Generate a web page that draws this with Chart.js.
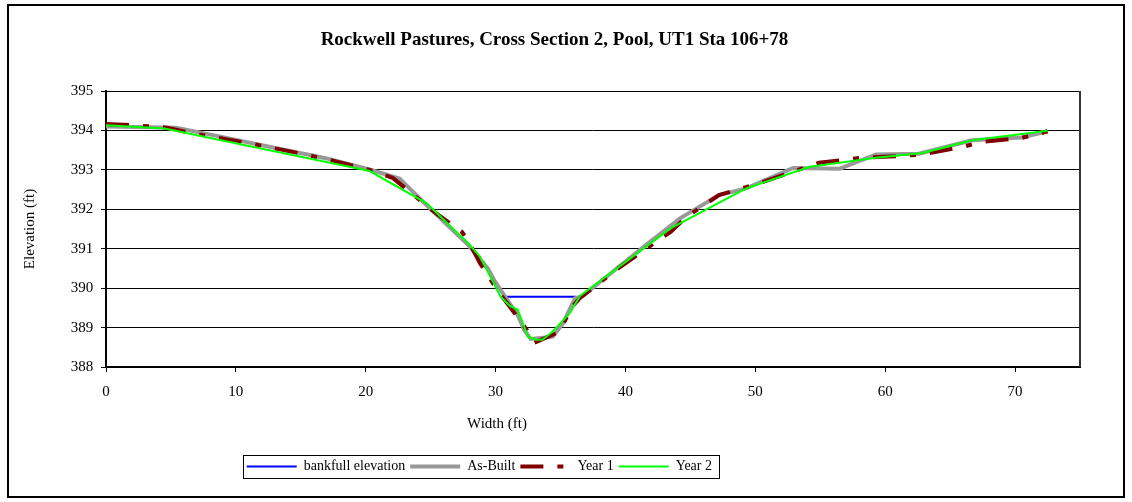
<!DOCTYPE html>
<html>
<head>
<meta charset="utf-8">
<script src="https://cdn.jsdelivr.net/npm/chart.js@4"></script>
<style>
  body { margin: 0; background: #fff; }
  #frame { position: absolute; left: 7px; top: 4px; width: 1114px; height: 490px; border: 2px solid #000; background: #fff; }
  canvas { display: block; }
</style>
</head>
<body>
<div id="frame"><canvas id="xsChart" width="1114" height="490"></canvas></div>
<script>
// cross section survey points (width ft, elevation ft)
const bankfullX = [30.8, 36.2];
const bankfullY = [389.78, 389.78];

const asBuiltX = [0, 5.4, 7.2, 17.0, 20.3, 22.6, 24.7, 27.9, 29.4, 29.9, 30.8, 31.7, 32.2, 32.7, 34.4, 35.2, 36.1, 36.7, 41.6, 44.2, 47.2, 49.3, 52.9, 56.5, 59.3, 62.6, 66.7, 70.5, 72.5];
const asBuiltY = [394.1, 394.07, 393.95, 393.29, 393.01, 392.78, 392.1, 391.09, 390.5, 390.2, 389.75, 389.32, 388.94, 388.71, 388.77, 389.11, 389.74, 389.8, 391.1, 391.77, 392.36, 392.53, 393.05, 393.03, 393.39, 393.41, 393.75, 393.82, 393.98];

const year1X = [0, 1.8, 4.7, 6.5, 11.1, 14.9, 17.0, 20.3, 22.1, 25.4, 27.4, 28.0, 28.8, 29.8, 30.4, 31.3, 32.4, 33.0, 34.7, 35.3, 35.9, 36.5, 39.3, 42.2, 43.5, 44.7, 47.2, 50.3, 54.9, 58.0, 61.1, 62.9, 65.9, 67.5, 70.5, 72.1, 72.5];
const year1Y = [394.16, 394.14, 394.07, 393.94, 393.67, 393.42, 393.27, 393.0, 392.79, 391.9, 391.43, 391.14, 390.63, 390.12, 389.83, 389.44, 388.94, 388.62, 388.86, 389.15, 389.53, 389.75, 390.47, 391.14, 391.43, 391.81, 392.36, 392.66, 393.18, 393.3, 393.35, 393.39, 393.58, 393.71, 393.81, 393.94, 393.98];

const year2X = [0, 4.5, 20.3, 24.7, 28.0, 28.8, 30.4, 31.1, 31.7, 32.5, 33.1, 33.6, 34.4, 35.7, 36.5, 43.5, 49.3, 54.2, 59.3, 62.9, 66.7, 72.5];
const year2Y = [394.13, 394.05, 392.97, 392.15, 391.1, 390.8, 389.78, 389.55, 389.45, 388.77, 388.69, 388.69, 388.9, 389.36, 389.8, 391.52, 392.53, 393.08, 393.31, 393.43, 393.75, 393.99];

const xMin = 0, xMax = 75, xStep = 10;
const yMin = 388, yMax = 395, yStep = 1;

const pts = (xs, ys) => xs.map((x, i) => ({ x: x, y: ys[i] }));

Chart.defaults.font.family = '"Liberation Serif", "Times New Roman", serif';
Chart.defaults.color = '#000';

// extra bits Excel draws: plot frame, legend box, offset axis title
const excelBits = {
  id: 'excelBits',
  afterLayout(chart) {
    chart.legend.left = 232.7;
    chart.titleBlock.left += 10;
    chart.titleBlock.right += 10;
  },
  afterDraw(chart) {
    const ctx = chart.ctx;
    const a = chart.chartArea;
    ctx.save();
    ctx.strokeStyle = '#000';
    ctx.lineWidth = 1;
    ctx.beginPath();
    ctx.moveTo(a.left, Math.round(a.top) + 0.5);
    ctx.lineTo(a.right, Math.round(a.top) + 0.5);
    ctx.stroke();
    ctx.lineWidth = 2;
    ctx.strokeStyle = '#333';
    ctx.beginPath();
    ctx.moveTo(Math.round(a.right), a.top);
    ctx.lineTo(Math.round(a.right), a.bottom);
    ctx.stroke();

    // legend frame
    const hb = chart.legend.legendHitBoxes;
    if (hb && hb.length) {
      const last = hb[hb.length - 1];
      const l = hb[0].left - 4, r = last.left + last.width + 7;
      const cy = hb[0].top + hb[0].height / 2;
      ctx.lineWidth = 1;
      ctx.strokeStyle = '#000';
      ctx.strokeRect(Math.round(l) + 0.5, Math.round(cy - 11.5) + 0.5, Math.round(r - l), 23);
    }

    // x axis title
    ctx.fillStyle = '#000';
    ctx.font = '15px "Liberation Serif", "Times New Roman", serif';
    ctx.textAlign = 'center';
    ctx.textBaseline = 'middle';
    ctx.fillText('Width (ft)', 488, 418);
    ctx.restore();
  }
};

new Chart(document.getElementById('xsChart'), {
  type: 'line',
  data: {
    datasets: [
      {
        label: 'bankfull elevation',
        data: pts(bankfullX, bankfullY),
        borderColor: '#0000ff',
        backgroundColor: '#0000ff',
        borderWidth: 2,
        pointRadius: 0,
        order: 3
      },
      {
        label: 'As-Built',
        data: pts(asBuiltX, asBuiltY),
        borderColor: '#999999',
        backgroundColor: '#999999',
        borderWidth: 4,
        pointRadius: 0,
        order: 2
      },
      {
        label: 'Year 1',
        data: pts(year1X, year1Y),
        borderColor: '#800000',
        backgroundColor: '#800000',
        borderWidth: 4,
        borderDash: [23, 14, 6, 14],
        pointRadius: 0,
        order: 1
      },
      {
        label: 'Year 2',
        data: pts(year2X, year2Y),
        borderColor: '#00ff00',
        backgroundColor: '#00ff00',
        borderWidth: 2,
        pointRadius: 0,
        order: 0
      }
    ]
  },
  options: {
    responsive: false,
    animation: false,
    layout: { padding: { left: 0, right: 43, top: 0, bottom: 12.5 } },
    plugins: {
      title: {
        display: true,
        text: 'Rockwell Pastures, Cross Section 2, Pool, UT1 Sta 106+78',
        fullSize: true,
        color: '#000',
        font: { size: 19, weight: 'bold' },
        padding: { top: 23, bottom: 39.2 }
      },
      legend: {
        position: 'bottom',
        align: 'start',
        labels: {
          usePointStyle: true,
          pointStyle: 'line',
          pointStyleWidth: 50,
          padding: 5,
          color: '#000',
          font: { size: 14 },
          generateLabels: chart => Chart.defaults.plugins.legend.labels.generateLabels(chart).map(item => {
            item.lineDash = chart.data.datasets[item.datasetIndex].borderDash || [];
            return item;
          }),
          sort: (a, b) => a.datasetIndex - b.datasetIndex
        }
      },
      tooltip: { enabled: false }
    },
    scales: {
      x: {
        type: 'linear',
        min: xMin,
        max: xMax,
        afterFit: s => { s.height = 87.5; },
        ticks: { stepSize: xStep, includeBounds: false, padding: 10.7, font: { size: 15 }, color: '#000' },
        grid: { drawOnChartArea: false, tickLength: 5, color: '#000', tickColor: '#000' },
        border: { color: '#000', width: 2 }
      },
      y: {
        min: yMin,
        max: yMax,
        afterFit: s => { s.width = 97; },
        ticks: { stepSize: yStep, padding: 7.7, font: { size: 15 }, color: '#000' },
        grid: { color: '#000', lineWidth: 1, tickLength: 5, tickColor: '#000' },
        border: { color: '#000', width: 2 },
        title: {
          display: true,
          text: 'Elevation (ft)',
          font: { size: 15 },
          color: '#000',
          padding: { top: 12, bottom: 0 }
        }
      }
    }
  },
  plugins: [excelBits]
});
</script>
</body>
</html>
